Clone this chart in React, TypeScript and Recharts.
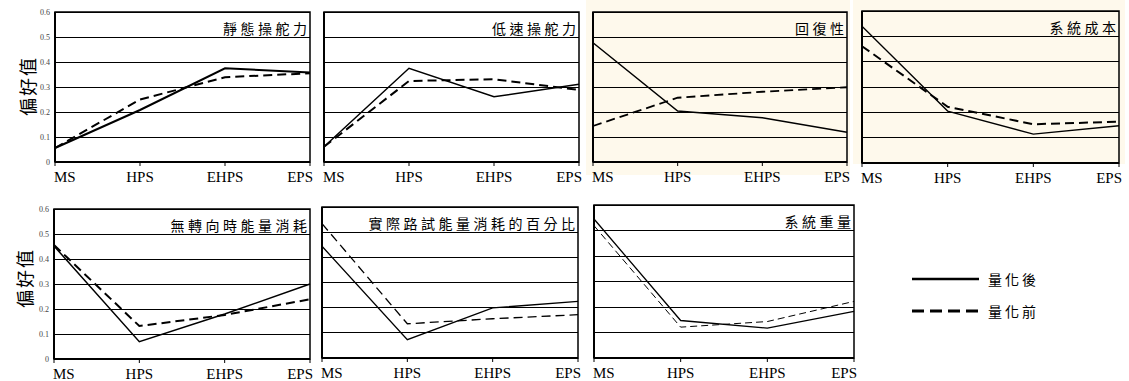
import React from 'react';
import { LineChart, Line, XAxis, YAxis, CartesianGrid, ReferenceArea } from 'recharts';

const categories = ['MS', 'HPS', 'EHPS', 'EPS'];
const yTicks = [0, 0.1, 0.2, 0.3, 0.4, 0.5, 0.6];
const yAxisTitle = '偏好值';
const legendLabels = ['量化後', '量化前'];

const titles = ['靜態操舵力', '低速操舵力', '回復性', '系統成本', '無轉向時能量消耗', '實際路試能量消耗的百分比', '系統重量'];

const staticAfter = [0.056, 0.208, 0.375, 0.358];
const staticBefore = [0.056, 0.25, 0.339, 0.355];
const lowSpeedAfter = [0.061, 0.375, 0.261, 0.311];
const lowSpeedBefore = [0.061, 0.324, 0.331, 0.288];
const recoveryAfter = [0.477, 0.204, 0.177, 0.119];
const recoveryBefore = [0.144, 0.257, 0.281, 0.299];
const costAfter = [0.54, 0.205, 0.114, 0.147];
const costBefore = [0.461, 0.222, 0.153, 0.163];
const energyAfter = [0.452, 0.069, 0.18, 0.3];
const energyBefore = [0.456, 0.132, 0.176, 0.239];
const roadTestAfter = [0.444, 0.073, 0.199, 0.225];
const roadTestBefore = [0.534, 0.136, 0.156, 0.172];
const weightAfter = [0.545, 0.147, 0.117, 0.183];
const weightBefore = [0.519, 0.121, 0.143, 0.222];

const build = (after: number[], before: number[]) =>
  categories.map((c, i) => ({ name: c, after: after[i], before: before[i] }));

type Panel = {
  title: string;
  after: number[];
  before: number[];
  L: number; T: number; R: number; B: number;
  showY: boolean;
  solidW: number;
  dashW: number;
  dash: string;
};

const panels: Panel[] = [
  { title: titles[0], after: staticAfter, before: staticBefore, L: 55, T: 12, R: 310, B: 162, showY: true, solidW: 2, dashW: 2, dash: '9 5' },
  { title: titles[1], after: lowSpeedAfter, before: lowSpeedBefore, L: 324, T: 12, R: 579, B: 162, showY: false, solidW: 1.5, dashW: 2, dash: '9 5' },
  { title: titles[2], after: recoveryAfter, before: recoveryBefore, L: 593, T: 12, R: 847, B: 162, showY: false, solidW: 1.5, dashW: 1.8, dash: '9 5' },
  { title: titles[3], after: costAfter, before: costBefore, L: 862, T: 11, R: 1119, B: 163, showY: false, solidW: 1.3, dashW: 2, dash: '9 5' },
  { title: titles[4], after: energyAfter, before: energyBefore, L: 54, T: 209, R: 310, B: 359, showY: true, solidW: 1.5, dashW: 2, dash: '9 5' },
  { title: titles[5], after: roadTestAfter, before: roadTestBefore, L: 322, T: 207, R: 578, B: 358, showY: false, solidW: 1.3, dashW: 1.3, dash: '9 5' },
  { title: titles[6], after: weightAfter, before: weightBefore, L: 594, T: 205, R: 854, B: 358, showY: false, solidW: 1.3, dashW: 1, dash: '7 4' },
];

const SERIF = '"Liberation Serif", "DejaVu Serif", serif';
const CJK = '"Noto Sans CJK TC", "Noto Sans CJK JP", sans-serif';

const XTick = (props: any) => {
  const { x, y, payload } = props;
  const v = payload.value;
  let anchor: 'start' | 'middle' | 'end' = 'middle';
  let dx = 0;
  if (v === categories[0]) { anchor = 'start'; dx = -1; }
  else if (v === categories[categories.length - 1]) { anchor = 'end'; dx = 3; }
  return (
    <text x={x + dx} y={y + 14} textAnchor={anchor} fontFamily={SERIF} fontSize={15} fill="#000">
      {v}
    </text>
  );
};

const EmptyTick = () => <g />;

const fmt = (v: number) => (v === 0 ? '0' : v.toFixed(1));

function PanelChart({ p }: { p: Panel }) {
  const w = p.R - p.L + 50;
  const h = p.B - p.T + 30;
  const data = build(p.after, p.before);
  return (
    <div style={{ position: 'absolute', left: p.L - 40, top: p.T - 5, width: w, height: h }}>
      <LineChart width={w} height={h} data={data} margin={{ top: 5, right: 10, left: 10, bottom: 5 }}>
        <CartesianGrid horizontal vertical={false} stroke="#000" strokeWidth={1} shapeRendering="crispEdges" />
        <ReferenceArea x1="MS" x2="EPS" y1={0} y2={0.6} fill="none" stroke="#000" strokeWidth={1.5} />
        <XAxis
          dataKey="name"
          height={20}
          axisLine={{ stroke: '#000', strokeWidth: 2 }}
          tickLine={{ stroke: '#000', strokeWidth: 1 }}
          tickSize={4}
          tickMargin={2}
          tick={<XTick />}
          interval={0}
        />
        <YAxis
          width={30}
          domain={[0, 0.6]}
          ticks={yTicks}
          tickFormatter={fmt}
          axisLine={{ stroke: '#000', strokeWidth: 2 }}
          tickLine={false}
          tickSize={0}
          tickMargin={5}
          interval={0}
          tick={p.showY ? { fontSize: 8, fill: '#444', fontFamily: SERIF } : <EmptyTick />}
        />
        <Line type="linear" dataKey="after" stroke="#000" strokeWidth={p.solidW} dot={false} isAnimationActive={false} />
        <Line type="linear" dataKey="before" stroke="#000" strokeWidth={p.dashW} strokeDasharray={p.dash} dot={false} isAnimationActive={false} />
      </LineChart>
    </div>
  );
}

export default function App() {
  return (
    <div style={{ position: 'absolute', left: 0, top: 0, width: 1129, height: 381, background: '#fff', overflow: 'hidden' }}>
      <div style={{ position: 'absolute', left: 586, top: 0, width: 264, height: 175, background: '#FEF9EC' }} />
      <div style={{ position: 'absolute', left: 853, top: 0, width: 272, height: 164, background: '#FEF9EC' }} />
      {panels.map((p, i) => (
        <PanelChart key={i} p={p} />
      ))}
      <svg width={1129} height={381} style={{ position: 'absolute', left: 0, top: 0, pointerEvents: 'none' }}>
        {panels.map((p, i) => (
          <text key={i} x={p.R + 0.5} y={p.T + 22} textAnchor="end" fontFamily={CJK} fontSize={14} letterSpacing={3.5} fill="#000">
            {p.title}
          </text>
        ))}
        <text x={27} y={86} transform="rotate(-90 27 86)" textAnchor="middle" dominantBaseline="central" fontFamily={CJK} fontSize={18} letterSpacing={2} fill="#000">
          {yAxisTitle}
        </text>
        <text x={24} y={278} transform="rotate(-90 24 278)" textAnchor="middle" dominantBaseline="central" fontFamily={CJK} fontSize={18} letterSpacing={2} fill="#000">
          {yAxisTitle}
        </text>
        <line x1={912} y1={279} x2={979} y2={279} stroke="#000" strokeWidth={2.5} />
        <text x={988} y={279} dominantBaseline="central" fontFamily={CJK} fontSize={14} letterSpacing={3} fill="#000">
          {legendLabels[0]}
        </text>
        <line x1={912} y1={311} x2={979} y2={311} stroke="#000" strokeWidth={3} strokeDasharray="12 6" />
        <text x={988} y={311} dominantBaseline="central" fontFamily={CJK} fontSize={14} letterSpacing={3} fill="#000">
          {legendLabels[1]}
        </text>
      </svg>
    </div>
  );
}
